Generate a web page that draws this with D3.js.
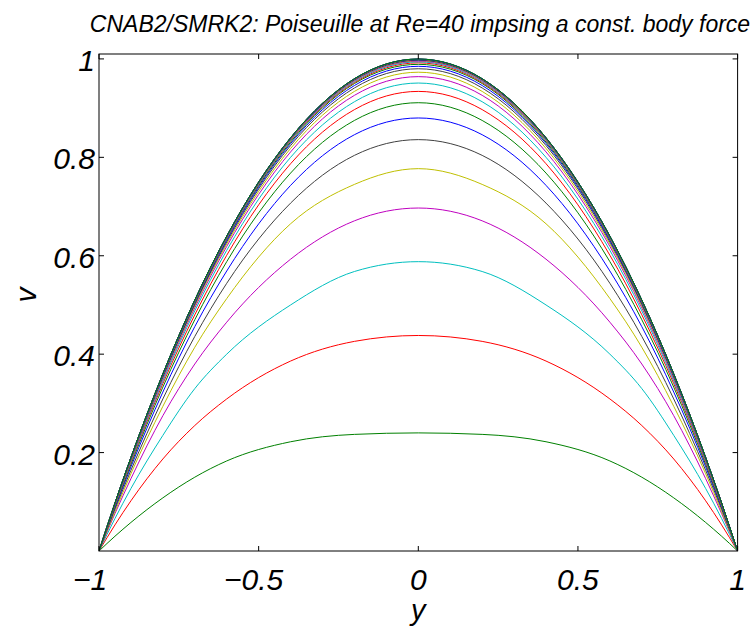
<!DOCTYPE html>
<html>
<head>
<meta charset="utf-8">
<script src="https://cdn.jsdelivr.net/npm/d3@7"></script>
<style>
  body { margin: 0; background: #fff; }
  svg text { font-family: "Liberation Sans", Arial, sans-serif; font-style: italic; fill: #000; }
</style>
</head>
<body>
<svg id="plot" width="751" height="627"></svg>
<script>
// half profile: wall-normal positions from the centre out to the wall
const yGrid = [0, 0.2, 0.4, 0.6, 0.7, 0.8, 0.9, 0.95, 1];

// velocity profiles v(y), one per time level
const profiles = [
    [0.240, 0.237, 0.222, 0.183, 0.150, 0.108, 0.058, 0.030, 0],
    [0.438, 0.426, 0.386, 0.309, 0.255, 0.187, 0.102, 0.053, 0],
    [0.588, 0.568, 0.500, 0.400, 0.330, 0.235, 0.127, 0.066, 0],
    [0.697, 0.671, 0.593, 0.465, 0.380, 0.275, 0.147, 0.076, 0],
    [0.777, 0.745, 0.665, 0.513, 0.414, 0.294, 0.157, 0.080, 0],
    [0.836, 0.804, 0.707, 0.544, 0.436, 0.309, 0.164, 0.085, 0],
    [0.880, 0.846, 0.743, 0.569, 0.456, 0.323, 0.171, 0.088, 0],
    [0.911, 0.875, 0.768, 0.588, 0.470, 0.333, 0.176, 0.0905, 0],
    [0.934, 0.897, 0.787, 0.601, 0.480, 0.340, 0.180, 0.092, 0],
    [0.951, 0.913, 0.800, 0.611, 0.488, 0.345, 0.182, 0.0937, 0],
    [0.964, 0.926, 0.811, 0.619, 0.494, 0.349, 0.184, 0.0947, 0],
    [0.973, 0.934, 0.818, 0.624, 0.498, 0.352, 0.186, 0.0954, 0],
    [0.980, 0.941, 0.824, 0.628, 0.501, 0.354, 0.187, 0.096, 0],
    [0.985, 0.946, 0.828, 0.631, 0.503, 0.355, 0.188, 0.0963, 0],
    [0.989, 0.950, 0.831, 0.634, 0.505, 0.357, 0.188, 0.0966, 0],
    [0.992, 0.952, 0.834, 0.635, 0.506, 0.358, 0.189, 0.0969, 0],
    [0.994, 0.954, 0.835, 0.636, 0.507, 0.358, 0.189, 0.097, 0],
    [0.9955, 0.9557, 0.8364, 0.6374, 0.508, 0.3586, 0.1893, 0.0971, 0],
    [0.9967, 0.9569, 0.8373, 0.6381, 0.5085, 0.359, 0.1895, 0.0972, 0],
    [0.9975, 0.9576, 0.838, 0.6385, 0.5089, 0.3592, 0.1896, 0.0973, 0],
    [0.9982, 0.9583, 0.8385, 0.6389, 0.5092, 0.3594, 0.1897, 0.0974, 0],
    [0.9987, 0.9588, 0.8389, 0.6392, 0.5094, 0.3596, 0.1898, 0.0974, 0],
    [0.999, 0.959, 0.8392, 0.6394, 0.5095, 0.3597, 0.1898, 0.0975, 0],
    [0.9993, 0.9593, 0.8394, 0.6396, 0.5097, 0.3598, 0.1899, 0.0975, 0],
    [0.9995, 0.9595, 0.8396, 0.6397, 0.5098, 0.3598, 0.1899, 0.0975, 0],
    [0.9996, 0.9596, 0.8397, 0.6398, 0.5098, 0.3599, 0.1899, 0.0975, 0],
    [0.9997, 0.9597, 0.8398, 0.6398, 0.5099, 0.3599, 0.19, 0.0975, 0],
    [0.9998, 0.9598, 0.8398, 0.6399, 0.5099, 0.36, 0.19, 0.0975, 0],
    [0.9999, 0.9599, 0.8399, 0.6399, 0.51, 0.36, 0.19, 0.0975, 0]
];

// matlab default line colour order (b g r c m y k), first curve drawn is green
const colorOrder = ['#0000ff', '#008000', '#ff0000', '#00bfbf', '#bf00bf', '#bfbf00', '#404040'];
const colorStart = 1;

const xTicks = [-1, -0.5, 0, 0.5, 1];
const yTicks = [0.2, 0.4, 0.6, 0.8, 1];
const xTickLabels = ['\u22121', '\u22120.5', '0', '0.5', '1'];
const yTickLabels = ['0.2', '0.4', '0.6', '0.8', '1'];

const titleText = 'CNAB2/SMRK2: Poiseuille at Re=40 impsing a const. body force';

const box = {left: 99, right: 737.6, top: 54, bottom: 551};
const tickLen = 5;

const svg = d3.select('svg#plot');

const x = d3.scaleLinear().domain([-1, 1]).range([box.left, box.right]);
const y = d3.scaleLinear().domain([0, 1.01]).range([box.bottom, box.top]);

svg.append('clipPath')
    .attr('id', 'clip')
  .append('rect')
    .attr('x', box.left)
    .attr('y', box.top)
    .attr('width', box.right - box.left)
    .attr('height', box.bottom - box.top);

// mirror each half profile onto the full channel -1..1
const fullProfile = (vals) => {
    const pts = [];
    for (let i = yGrid.length - 1; i > 0; i--) pts.push([-yGrid[i], vals[i]]);
    for (let i = 0; i < yGrid.length; i++) pts.push([yGrid[i], vals[i]]);
    return pts;
};

const line = d3.line()
    .x(d => x(d[0]))
    .y(d => y(d[1]))
    .curve(d3.curveMonotoneX);

svg.append('g')
    .attr('clip-path', 'url(#clip)')
  .selectAll('path')
  .data(profiles)
  .join('path')
    .attr('d', d => line(fullProfile(d)))
    .attr('fill', 'none')
    .attr('stroke-width', 1)
    .attr('stroke', (d, i) => colorOrder[(i + colorStart) % colorOrder.length]);

// axes: box with inward ticks on all four sides
const axisG = svg.append('g')
    .attr('stroke', '#000')
    .attr('stroke-width', 1)
    .attr('fill', 'none');

axisG.append('rect')
    .attr('x', box.left)
    .attr('y', box.top)
    .attr('width', box.right - box.left)
    .attr('height', box.bottom - box.top);

xTicks.forEach(t => {
    axisG.append('line')
        .attr('x1', x(t)).attr('x2', x(t))
        .attr('y1', box.bottom).attr('y2', box.bottom - tickLen);
    axisG.append('line')
        .attr('x1', x(t)).attr('x2', x(t))
        .attr('y1', box.top).attr('y2', box.top + tickLen);
});
yTicks.forEach(t => {
    axisG.append('line')
        .attr('x1', box.left).attr('x2', box.left + tickLen)
        .attr('y1', y(t)).attr('y2', y(t));
    axisG.append('line')
        .attr('x1', box.right).attr('x2', box.right - tickLen)
        .attr('y1', y(t)).attr('y2', y(t));
});

// tick labels
svg.append('g')
  .selectAll('text')
  .data(xTicks)
  .join('text')
    .attr('x', d => x(d))
    .attr('y', 590)
    .attr('text-anchor', 'middle')
    .attr('dx', d => d === -1 ? -9 : (d === -0.5 ? -5 : 0))
    .style('font-size', '30px')
    .text((d, i) => xTickLabels[i]);

svg.append('g')
  .selectAll('text')
  .data(yTicks)
  .join('text')
    .attr('x', box.left - 4)
    .attr('y', d => y(d) + 12)
    .attr('text-anchor', 'end')
    .style('font-size', '30px')
    .text((d, i) => yTickLabels[i]);

// axis labels and title
svg.append('text')
    .attr('x', x(0))
    .attr('y', 620)
    .attr('text-anchor', 'middle')
    .style('font-size', '29px')
    .text('y');

svg.append('text')
    .attr('transform', 'translate(36,295) rotate(-90)')
    .attr('text-anchor', 'middle')
    .style('font-size', '30px')
    .text('v');

svg.append('text')
    .attr('x', 420)
    .attr('y', 32)
    .attr('text-anchor', 'middle')
    .style('font-size', '23px')
    .text(titleText);
</script>
</body>
</html>
